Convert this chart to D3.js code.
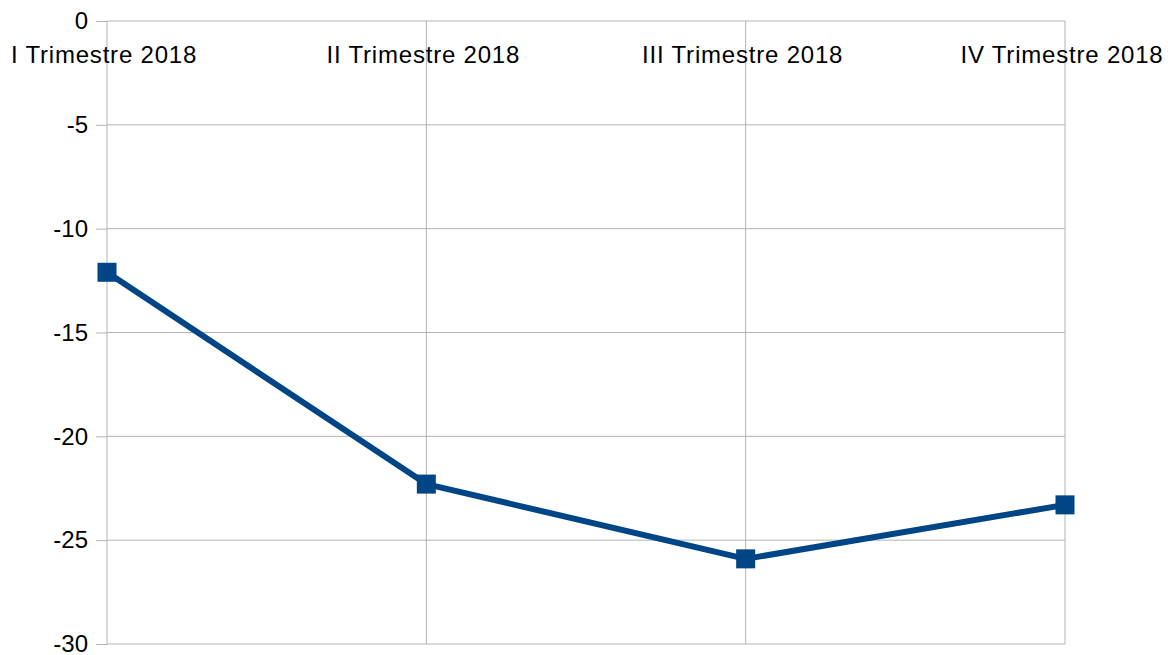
<!DOCTYPE html>
<html>
<head>
<meta charset="utf-8">
<script src="https://cdn.jsdelivr.net/npm/d3@7"></script>
<style>
  body { margin: 0; background: #fff; }
  text { font-family: "Liberation Sans", Arial, sans-serif; fill: #000; }
</style>
</head>
<body>
<script>
var categories = ["I Trimestre 2018", "II Trimestre 2018", "III Trimestre 2018", "IV Trimestre 2018"];
var values = [-12.1, -22.3, -25.9, -23.3];
var yTicks = [0, -5, -10, -15, -20, -25, -30];

var width = 1168, height = 655;
var plotLeft = 107, plotRight = 1065, plotTop = 21, plotBottom = 644;

var svg = d3.select("body").append("svg")
    .attr("width", width)
    .attr("height", height);

var x = d3.scalePoint().domain(categories).range([plotLeft, plotRight]);
var y = d3.scaleLinear().domain([-30, 0]).range([plotBottom, plotTop]);

// horizontal grid lines
svg.append("g").selectAll("line")
    .data(yTicks)
    .enter()
    .append("line")
    .attr("x1", plotLeft).attr("x2", plotRight)
    .attr("y1", function (d) { return y(d); })
    .attr("y2", function (d) { return y(d); })
    .attr("stroke", "#b3b3b3");

// vertical grid at categories
svg.append("g").selectAll("line")
    .data(categories)
    .enter()
    .append("line")
    .attr("x1", function (d) { return x(d); })
    .attr("x2", function (d) { return x(d); })
    .attr("y1", plotTop).attr("y2", plotBottom)
    .attr("stroke", "#b3b3b3");

// left ticks + labels (plain hyphen like the original)
var yAxis = svg.append("g")
    .attr("transform", "translate(" + plotLeft + ",0)")
    .call(d3.axisLeft(y).tickValues(yTicks).tickSize(11).tickPadding(8)
      .tickFormat(function (d) { return String(d); }));
yAxis.select(".domain").remove();
yAxis.selectAll("line").attr("stroke", "#b3b3b3");
yAxis.selectAll("text")
    .style("font-size", "24px")
    .style("font-family", "'Liberation Sans', Arial, sans-serif")
    .attr("fill", "#000");

// category labels under the 0 line
svg.append("g").selectAll("text")
    .data(categories)
    .enter()
    .append("text")
    .attr("x", function (d) { return x(d) - 3; })
    .attr("y", 63)
    .attr("text-anchor", "middle")
    .style("font-size", "24px")
    .style("letter-spacing", "0.8px")
    .text(function (d) { return d; });

var line = d3.line()
    .x(function (d, i) { return x(categories[i]); })
    .y(function (d) { return y(d); });

svg.append("path")
    .datum(values)
    .attr("d", line)
    .attr("fill", "none")
    .attr("stroke", "#004586")
    .attr("stroke-width", 6)
    .attr("stroke-linejoin", "round");

var s = 19;
svg.append("g").selectAll("rect")
    .data(values)
    .enter()
    .append("rect")
    .attr("x", function (d, i) { return x(categories[i]) - s / 2; })
    .attr("y", function (d) { return y(d) - s / 2; })
    .attr("width", s)
    .attr("height", s)
    .attr("fill", "#004586");
</script>
</body>
</html>
